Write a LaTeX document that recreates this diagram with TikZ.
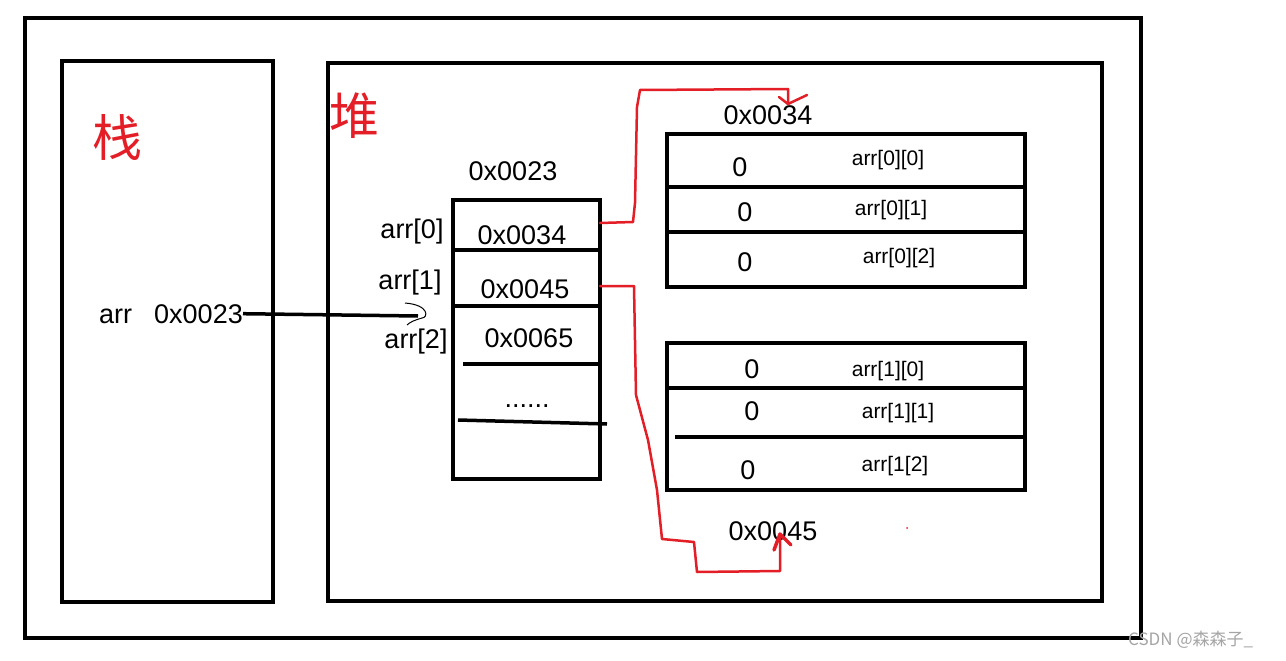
\documentclass[tikz,border=0pt]{standalone}
\usepackage{fontspec}
\setmainfont{Liberation Sans}
\newfontfamily\cjk{Noto Sans CJK SC}
\definecolor{handred}{RGB}{228,30,38}
\definecolor{wmgray}{RGB}{165,165,165}
\tikzset{
  frame/.style={draw=black, line width=4pt},
  cellline/.style={draw=black, line width=3.5pt},
  lbl/.style={font=\fontsize{27}{30}\selectfont, inner sep=0pt},
  small/.style={font=\fontsize{21}{24}\selectfont, inner sep=0pt},
  hand/.style={font=\cjk\fontsize{50}{54}\selectfont, text=handred, inner sep=0pt},
  redline/.style={draw=handred, line width=2.5pt, line join=round, line cap=round},
  ptrline/.style={draw=black, line width=3.5pt},
}
\begin{document}
\begin{tikzpicture}[x=1pt,y=-1pt]
\useasboundingbox (0,0) rectangle (1286,661);
\fill[white] (0,0) rectangle (1286,661);

% outer frames
\draw[frame] (25,18) rectangle (1141,638);
\draw[frame] (62,61) rectangle (273,602);
\draw[frame] (328,63) rectangle (1102,601);

% hand-written labels
\node[hand] (zhan) at (117,137) {栈};
\node[hand] (dui) at (354,116) {堆};

% stack variable
\node[lbl, anchor=base west] (arrname) at (99,323) {arr};
\node[lbl, anchor=base east] (ptr) at (243,323) {0x0023};
\coordinate (ptrend) at (418,316);
\draw[ptrline] (ptr.east) -- (ptrend);
\draw[black, line width=1pt] (405,303) .. controls (430,305) and (428,318) .. (422,318) .. controls (415,320) and (410,322) .. (407,325);

% array of pointers
\draw[frame] (453,200) rectangle (600,479);
\draw[cellline] (453,250) -- (600,250);
\draw[cellline] (453,306) -- (600,306);
\draw[cellline] (463,364) -- (598,364);
\draw[cellline] (458,420) -- (607,424);
\node[lbl] (addr0023) at (513,171) {0x0023};
\node[lbl] (c0) at (522,235) {0x0034};
\node[lbl] (c1) at (525,289) {0x0045};
\node[lbl] (c2) at (529,338) {0x0065};
\node[lbl] (dots) at (527,406) {......};
\node[lbl] (a0) at (412,232) {arr[0]};
\node[lbl] (a1) at (410,283) {arr[1]};
\node[lbl] (a2) at (416,342) {arr[2]};

% first row array
\draw[frame] (667,134) rectangle (1025,287);
\draw[cellline] (667,187) -- (1025,187);
\draw[cellline] (667,232) -- (1025,232);
\node[lbl] (addr0034) at (768,115) {0x0034};
\node[lbl] (v00) at (740,167) {0};
\node[lbl] (v01) at (745,212) {0};
\node[lbl] (v02) at (745,262) {0};
\node[small] (n00) at (888,160) {arr[0][0]};
\node[small] (n01) at (891,210) {arr[0][1]};
\node[small] (n02) at (899,258) {arr[0][2]};

% second row array
\draw[frame] (667,343) rectangle (1025,490);
\draw[cellline] (667,388) -- (1025,388);
\draw[cellline] (675,437) -- (1025,437);
\node[lbl] (addr0045) at (773,531) {0x0045};
\node[lbl] (v10) at (752,369) {0};
\node[lbl] (v11) at (752,411) {0};
\node[lbl] (v12) at (748,470) {0};
\node[small] (n10) at (888,371) {arr[1][0]};
\node[small] (n11) at (898,413) {arr[1][1]};
\node[small] (n12) at (895,466) {arr[1[2]};

% red hand-drawn pointers
\coordinate (r0start) at (600,223);
\coordinate (r0end) at (788,104);
\draw[redline] (r0start) -- (633,222) -- (635,203) -- (637,107) -- (640,90) -- (788,89) -- (r0end);
\draw[redline] (779,97) -- (r0end) -- (807,95);

\coordinate (r1start) at (600,286);
\coordinate (r1end) at (780,534);
\draw[redline] (r1start) -- (634,286) -- (636,395) -- (648,440) -- (657,490) -- (662,539) -- (694,542) -- (697,572) -- (780,571) -- (r1end);
\draw[redline, line width=3.5pt] (774,550) -- (r1end) -- (791,545);

\fill[handred] (907,528) circle (1pt);

% watermark
\node[font=\cjk\fontsize{17}{20}\selectfont, text=wmgray, anchor=west, inner sep=0pt] (wm) at (1128,640) {CSDN @森森子\_};
\end{tikzpicture}
\end{document}
